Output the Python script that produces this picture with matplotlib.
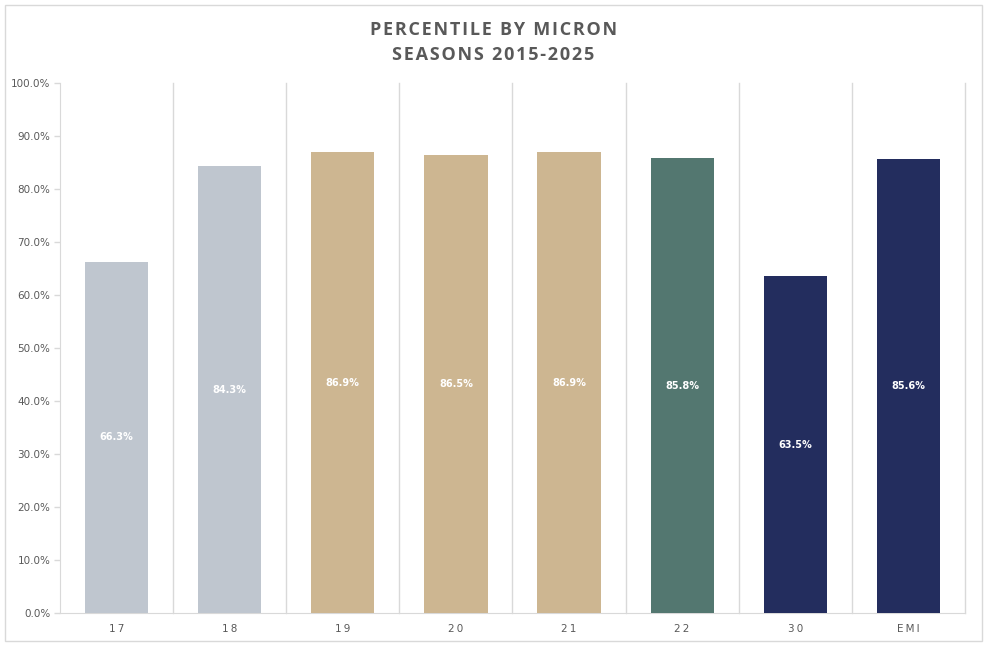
import matplotlib
matplotlib.use('Agg')
import matplotlib.pyplot as plt
from matplotlib.patches import Rectangle
from matplotlib.ticker import FuncFormatter, MultipleLocator

# 数据
categories = ['17', '18', '19', '20', '21', '22', '30', 'EMI']
percentiles = [66.3, 84.3, 86.9, 86.5, 86.9, 85.8, 63.5, 85.6]
bar_colors = ['#BFC6CF', '#BFC6CF', '#CDB691', '#CDB691', '#CDB691',
              '#537770', '#232D5E', '#232D5E']
title_lines = ['PERCENTILE BY MICRON', 'SEASONS 2015-2025']

COLORS = {
    'text': '#595959',
    'grid': '#D9D9D9',
    'border': '#D9D9D9',
}

fig = plt.figure(figsize=(9.87, 6.48), dpi=100, facecolor='white')
ax = fig.add_axes([60 / 987, 35 / 648, 905 / 987, 530 / 648])

x = list(range(len(categories)))
ax.bar(x, percentiles, width=0.56, color=bar_colors, zorder=3)

# 数据标签（居中）
for xi, v in zip(x, percentiles):
    ax.text(xi, v / 2, f'{v:.1f}%', ha='center', va='center',
            color='white', fontsize=7, fontweight='bold', zorder=4)

# 类别分隔线
for i in x:
    ax.axvline(i + 0.5, color=COLORS['grid'], linewidth=1, zorder=1, clip_on=False)

ax.set_xlim(-0.5, len(categories) - 0.5)
ax.set_ylim(0, 100)
ax.yaxis.set_major_locator(MultipleLocator(10))
ax.yaxis.set_major_formatter(FuncFormatter(lambda v, _: f'{v:.1f}%'))

ax.set_xticks(x)
ax.set_xticklabels(['\u2009'.join(c) for c in categories])
ax.tick_params(axis='x', length=0, pad=8, labelsize=7.5, labelcolor=COLORS['text'])
ax.tick_params(axis='y', length=4, width=1, color=COLORS['grid'], pad=3,
               labelsize=7.5, labelcolor=COLORS['text'])

for side in ['top', 'right']:
    ax.spines[side].set_visible(False)
ax.spines['left'].set_color(COLORS['grid'])
ax.spines['bottom'].set_color(COLORS['grid'])

# 标题（字间距加宽）
for line, ypix in zip(title_lines, [30, 55]):
    fig.text(0.5, 1 - ypix / 648, '\u200a'.join(line), ha='center', va='center',
             fontsize=13, fontweight='bold', color=COLORS['text'],
             family=['Open Sans', 'DejaVu Sans'])

# 外框
fig.patches.append(Rectangle((5 / 987, 7 / 648), 977 / 987, 636 / 648,
                             transform=fig.transFigure, fill=False,
                             edgecolor=COLORS['border'], linewidth=1))

plt.savefig('out.png', dpi=100, facecolor='white')
plt.close(fig)
